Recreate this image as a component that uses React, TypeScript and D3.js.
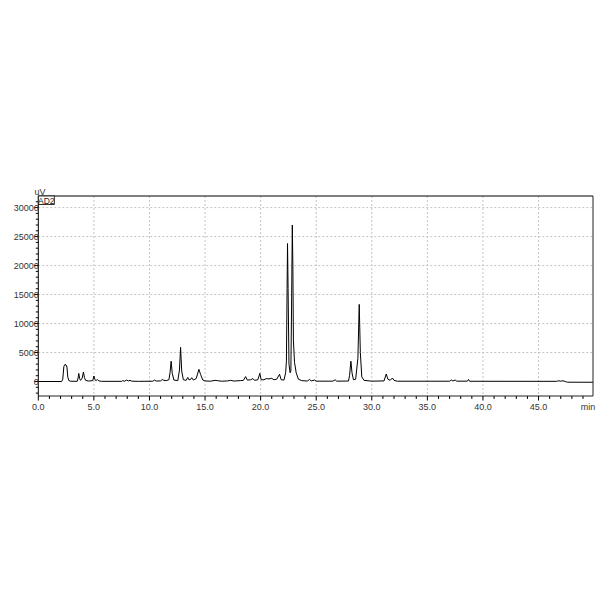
import * as d3 from 'd3';
import React from "react";

const WIDTH = 600;
const HEIGHT = 600;
const FONT = "'Liberation Sans', Arial, sans-serif";

// retention time (min) and detector signal (uV)
const traceTime = [
    0, 2.1, 2.2, 2.3, 2.4, 2.5, 2.58, 2.65, 2.75, 2.9,
    3.5, 3.58, 3.64, 3.72, 3.8, 3.95, 4.06, 4.15, 4.25, 4.5,
    4.9, 5.0, 5.1, 5.2, 5.32, 5.45, 5.7, 7.5, 7.6, 7.75,
    7.95, 8.1, 8.25, 8.4, 9.0, 10.3, 10.45, 10.6, 11.0, 11.15,
    11.3, 11.5, 11.75, 11.85, 11.95, 12.05, 12.2, 12.55, 12.7, 12.8,
    12.9, 13.05, 13.3, 13.45, 13.55, 13.7, 13.8, 13.95, 14.2, 14.45,
    14.6, 14.8, 15.0, 15.5, 15.9, 16.1, 16.5, 17.0, 17.3, 17.6,
    18.2, 18.45, 18.65, 18.8, 19.1, 19.3, 19.45, 19.75, 19.93, 20.05,
    20.3, 20.5, 20.75, 21.0, 21.2, 21.45, 21.7, 21.85, 22.1, 22.25,
    22.32, 22.38, 22.42, 22.47, 22.55, 22.65, 22.72, 22.78, 22.85, 22.9,
    22.95, 23.05, 23.2, 23.4, 23.7, 24.2, 24.4, 24.55, 24.85, 25.0,
    26.5, 26.7, 26.85, 27.9, 28.0, 28.12, 28.22, 28.35, 28.55, 28.75,
    28.87, 28.97, 29.1, 29.3, 30.0, 31.1, 31.3, 31.45, 31.65, 31.85,
    32.0, 32.3, 37.0, 37.15, 37.3, 37.5, 37.65, 38.6, 38.7, 38.8,
    46.6, 46.8, 47.0, 47.2, 47.4, 47.6, 49.9,
];
const traceSignal = [
    0, 0, 400, 2600, 2950, 2850, 2500, 800, 150, 50,
    30, 600, 1400, 500, 200, 600, 1650, 700, 200, 80,
    150, 950, 300, 150, 350, 100, 30, 30, 150, 50,
    250, 100, 200, 60, 30, 50, 250, 80, 100, 350,
    200, 150, 300, 1500, 3500, 1400, 250, 150, 2000, 5900,
    1800, 300, 200, 700, 300, 350, 650, 250, 500, 2100,
    1200, 250, 100, 50, 200, 150, 50, 100, 200, 80,
    150, 200, 850, 250, 300, 500, 200, 300, 1400, 300,
    300, 500, 450, 550, 300, 400, 1250, 300, 250, 1500,
    3500, 16000, 23800, 16000, 3000, 1500, 1800, 12000, 27000, 20000,
    7000, 3300, 1500, 400, 150, 80, 350, 100, 250, 60,
    60, 300, 60, 80, 1000, 3500, 1500, 300, 400, 4000,
    13300, 5000, 800, 200, 60, 100, 1300, 400, 200, 600,
    200, 50, 50, 250, 100, 250, 60, 60, 350, 40,
    30, 120, 60, 130, 0, -120, -130,
];

const xMajorTicks = [0, 5, 10, 15, 20, 25, 30, 35, 40, 45];
const xTickLabels = ["0.0", "5.0", "10.0", "15.0", "20.0", "25.0", "30.0", "35.0", "40.0", "45.0"];
const yMajorTicks = [0, 5000, 10000, 15000, 20000, 25000, 30000];

const LEFT = 38.3;
const RIGHT = 593;
const TOP = 196;
const BOTTOM = 396;

export default function App() {
    const x = d3.scaleLinear().domain([0, 49.9]).range([LEFT, RIGHT]);
    const y = d3.scaleLinear().domain([-2500, 32000]).range([BOTTOM, TOP]);

    const points: [number, number][] = traceTime.map((t, i) => [t, traceSignal[i]]);
    const line = d3.line<[number, number]>()
        .x(d => x(d[0]))
        .y(d => y(d[1]));

    const xMinor = d3.range(0, 50, 1).filter(v => v % 5 !== 0);
    const yMinor = d3.range(-2000, 32000, 1000).filter(v => v % 5000 !== 0);

    return (
        <svg width={WIDTH} height={HEIGHT}
             style={{position: "absolute", left: 0, top: 0, background: "#fff"}}
             fontFamily={FONT}>
            {/* grid */}
            {xMajorTicks.filter(v => v > 0).map(v => (
                <line key={"gx" + v} x1={x(v)} x2={x(v)} y1={TOP} y2={BOTTOM}
                      stroke="#c4c4c4" strokeDasharray="2,2"/>
            ))}
            {yMajorTicks.filter(v => v > 0).map(v => (
                <line key={"gy" + v} x1={LEFT} x2={RIGHT} y1={y(v)} y2={y(v)}
                      stroke="#c4c4c4" strokeDasharray="2,2"/>
            ))}

            {/* trace */}
            <path d={line(points) || ""} fill="none" stroke="#000" strokeWidth={1}/>

            {/* frame */}
            <line x1={LEFT} x2={RIGHT} y1={TOP} y2={TOP} stroke="#000"/>
            <line x1={RIGHT} x2={RIGHT} y1={TOP} y2={BOTTOM} stroke="#222"/>
            <line x1={LEFT} x2={LEFT} y1={TOP} y2={BOTTOM} stroke="#000"/>
            <line x1={LEFT} x2={RIGHT} y1={BOTTOM} y2={BOTTOM} stroke="#222"/>

            {/* y axis ticks */}
            {yMinor.map(v => (
                <line key={"ym" + v} x1={LEFT - 2.5} x2={LEFT} y1={y(v)} y2={y(v)} stroke="#000"/>
            ))}
            {yMajorTicks.map(v => (
                <g key={"yt" + v}>
                    <line x1={LEFT - 4} x2={LEFT} y1={y(v)} y2={y(v)} stroke="#000"/>
                    <text x={LEFT + 0.5} y={y(v)} dy="0.35em" textAnchor="end" fontSize={9} fill="#333">
                        {v}
                    </text>
                </g>
            ))}

            {/* x axis ticks */}
            {xMinor.map(v => (
                <line key={"xm" + v} x1={x(v)} x2={x(v)} y1={BOTTOM} y2={BOTTOM + 3} stroke="#000"/>
            ))}
            {xMajorTicks.map((v, i) => (
                <g key={"xt" + v}>
                    <line x1={x(v)} x2={x(v)} y1={BOTTOM} y2={BOTTOM + 4.5} stroke="#000"/>
                    <text x={x(v)} y={BOTTOM + 14} textAnchor="middle" fontSize={9} fill="#333">
                        {xTickLabels[i]}
                    </text>
                </g>
            ))}
            <text x={588} y={BOTTOM + 14} textAnchor="middle" fontSize={9} fill="#333">min</text>

            {/* unit and channel label */}
            <text x={34.5} y={195} fontSize={9} fill="#333">uV</text>
            <rect x={LEFT} y={TOP} width={16} height={8.5} fill="#fff" stroke="#000" strokeWidth={0.8}/>
            <text x={LEFT + 8} y={TOP + 7.5} textAnchor="middle" fontSize={8.5} fill="#222">AD2</text>
        </svg>
    );
}
